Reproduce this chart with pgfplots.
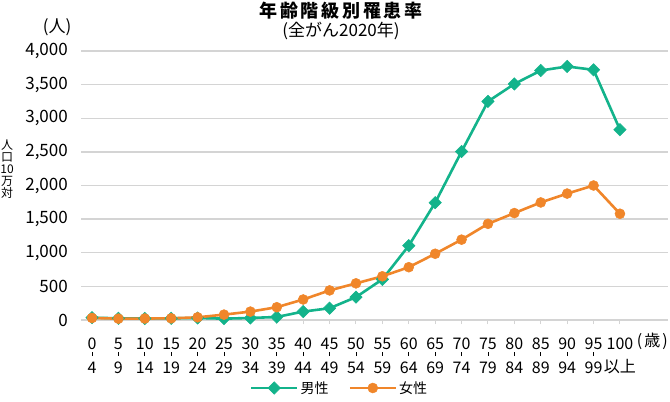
\documentclass[border=0pt]{standalone}
\usepackage{pgfplots}
\pgfplotsset{compat=1.18}
\usepackage{fontspec}
\setmainfont{Noto Sans CJK JP}
\definecolor{mgreen}{HTML}{13B38B}
\definecolor{forange}{HTML}{F0862A}
\definecolor{gridc}{HTML}{D4D4D4}
\newcommand{\rng}[2]{#1\\\rule[5pt]{0.8pt}{4pt}\\#2}
\newcommand{\rngx}[2]{#1\\[11.5pt]\smash{#2}}
\pgfplotstableread{
x male female
0 35 30
1 25 20
2 22 22
3 25 25
4 30 40
5 20 80
6 30 125
7 45 190
8 125 305
9 175 440
10 340 545
11 605 650
12 1105 785
13 1745 985
14 2505 1195
15 3250 1430
16 3510 1590
17 3710 1748
18 3770 1880
19 3720 2000
20 2830 1580
}\datatab
\begin{document}
\begin{tikzpicture}
\useasboundingbox (0,0) rectangle (670pt,402pt);
\begin{axis}[
  at={(81pt,82pt)}, anchor=south west,
  scale only axis, width=587pt, height=269pt,
  xmin=-0.417, xmax=21.82, ymin=0, ymax=4000,
  clip=false,
  axis line style={draw=none},
  ytick={0,500,...,4000},
  ymajorgrids, grid style={gridc, line width=1.3pt},
  ytick style={draw=none},
  xtick={0,...,20},
  xtick pos=bottom, tick align=outside, major tick length=4pt,
  xtick style={gridc, line width=1pt},
  xticklabels={{\rng{0}{4}},{\rng{5}{9}},{\rng{10}{14}},{\rng{15}{19}},{\rng{20}{24}},{\rng{25}{29}},{\rng{30}{34}},{\rng{35}{39}},{\rng{40}{44}},{\rng{45}{49}},{\rng{50}{54}},{\rng{55}{59}},{\rng{60}{64}},{\rng{65}{69}},{\rng{70}{74}},{\rng{75}{79}},{\rng{80}{84}},{\rng{85}{89}},{\rng{90}{94}},{\rng{95}{99}},{\rngx{100}{以上}}},
  xticklabel style={align=center, anchor=north, inner sep=0pt, yshift=-14pt, font=\fontsize{16}{11.25}\selectfont},
  yticklabel style={inner sep=0pt, xshift=-9pt, font=\fontsize{17}{18}\selectfont},
  /pgf/number format/.cd, 1000 sep={,}, assume math mode=true,
  /pgfplots/.cd,
  legend style={at={(0.4404,-0.2528)}, anchor=center, draw=none, fill=none,
    font=\fontsize{14}{15}\selectfont,
    /tikz/every even column/.append style={column sep=18pt}},
  legend columns=2,
  legend image code/.code={\draw[#1, mark repeat=2, mark phase=2] plot coordinates {(0pt,0pt) (23pt,0pt) (46pt,0pt)};},
]
\addplot[mgreen, line width=2.6pt, mark=square*, mark size=4.4pt, mark options={rotate=45, solid, line width=0.5pt}] table[x=x, y=male] {\datatab};
\addlegendentry{男性}
\addplot[forange, line width=2.6pt, mark=*, mark size=5pt, mark options={solid, line width=0.5pt}] table[x=x, y=female] {\datatab};
\addlegendentry{女性}
\end{axis}
\node[font=\bfseries\fontsize{18}{20}\selectfont\addfontfeatures{LetterSpace=15}] at (341pt,391pt) {年齢階級別罹患率};
\node[font=\fontsize{17}{18}\selectfont] at (341pt,371.5pt) {(全がん2020年)};
\node[font=\fontsize{17}{18}\selectfont] at (57pt,375pt) {(人)};
\node[font=\fontsize{12}{12}\selectfont, align=center, inner sep=0pt] at (7pt,232.5pt) {人\\口\\10\\万\\対};
\node[font=\fontsize{16}{16}\selectfont, inner sep=0pt, anchor=east] at (668pt,61pt) {(\hspace{2pt}歳\hspace{2pt})};
\end{tikzpicture}
\end{document}
